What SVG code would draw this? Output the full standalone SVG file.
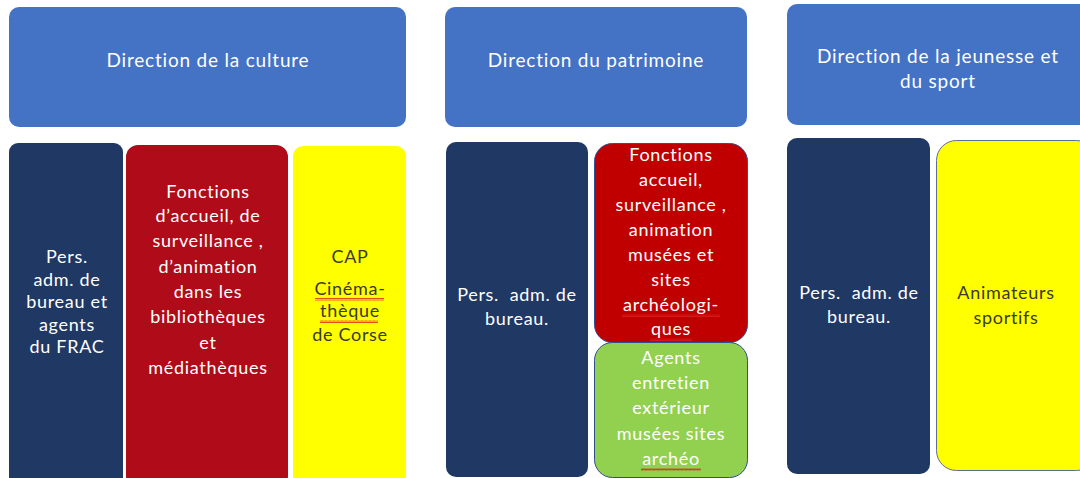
<svg xmlns="http://www.w3.org/2000/svg" width="1080" height="478" viewBox="0 0 1080 478">
<defs>
<pattern id="wavy" width="4" height="3" patternUnits="userSpaceOnUse">
<path d="M0 2.5 L1 0.5 L2 2.5 L3 0.5 L4 2.5" fill="none" stroke="#e02020" stroke-width="0.8"/>
</pattern>
<style>
.hdr{fill:#4472C4;}
.navy{fill:#203864;}
.red1{fill:#B00B18;}
.red2{fill:#C00000;stroke:#2F4F8F;stroke-width:1;}
.green{fill:#92D050;stroke:#2F4F8F;stroke-width:1;}
.yel{fill:#FFFF00;}
.yel2{fill:#FFFF00;stroke:#5A6E99;stroke-width:1;}
text{font-family:Lato,"Open Sans","Liberation Sans",sans-serif;text-anchor:middle;}
.th{fill:#FFFFFF;font-size:19px;letter-spacing:0.8px;}
.tw{fill:#FFFFFF;font-size:18px;letter-spacing:0.7px;}
.tk{fill:#3A3A2A;font-size:18px;letter-spacing:0.7px;}
.wv{fill:url(#wavy);}
</style>
</defs>
<rect width="1080" height="478" fill="#FFFFFF"/>
<g id="connectors"></g>

<g id="hdr-culture">
<rect class="hdr" x="9" y="7" width="397" height="120" rx="10"/>
<text class="th" x="208" y="67">Direction de la culture</text>
</g>
<g id="hdr-patrimoine">
<rect class="hdr" x="445" y="7" width="302" height="120" rx="10"/>
<text class="th" x="596" y="67">Direction du patrimoine</text>
</g>
<g id="hdr-jeunesse">
<rect class="hdr" x="787" y="4" width="310" height="121" rx="10"/>
<text class="th" x="938" y="63">Direction de la jeunesse et</text>
<text class="th" x="938" y="88">du sport</text>
</g>

<g id="c1-admin">
<rect class="navy" x="9" y="143" width="114" height="345" rx="9"/>
<text class="tw" x="67" y="263">Pers.</text>
<text class="tw" x="67" y="286">adm. de</text>
<text class="tw" x="67" y="308">bureau et</text>
<text class="tw" x="67" y="331">agents</text>
<text class="tw" x="67" y="353">du FRAC</text>
</g>
<g id="c1-accueil">
<rect class="red1" x="126" y="145" width="162" height="343" rx="12"/>
<text class="tw" x="208" y="198">Fonctions</text>
<text class="tw" x="208" y="222">d’accueil, de</text>
<text class="tw" x="208" y="247">surveillance ,</text>
<text class="tw" x="208" y="273">d’animation</text>
<text class="tw" x="208" y="298">dans les</text>
<text class="tw" x="208" y="323">bibliothèques</text>
<text class="tw" x="208" y="349">et</text>
<text class="tw" x="208" y="374">médiathèques</text>
</g>
<g id="c1-cap">
<rect class="yel" x="293" y="146" width="113" height="342" rx="10"/>
<text class="tk" x="350" y="263">CAP</text>
<text class="tk" x="350" y="295">Cinéma-</text>
<rect class="wv" x="315" y="298" width="69" height="3"/>
<text class="tk" x="350" y="317">thèque</text>
<rect class="wv" x="320" y="320" width="58" height="3"/>
<text class="tk" x="350" y="341">de Corse</text>
</g>

<g id="c2-admin">
<rect class="navy" x="446" y="142" width="142" height="335" rx="10"/>
<text class="tw" x="517" y="301" xml:space="preserve">Pers.  adm. de</text>
<text class="tw" x="517" y="325">bureau.</text>
</g>
<g id="c2-accueil">
<rect class="red2" x="594.5" y="143.5" width="153" height="199" rx="18"/>
<text class="tw" x="671" y="161">Fonctions</text>
<text class="tw" x="671" y="186">accueil,</text>
<text class="tw" x="671" y="211">surveillance ,</text>
<text class="tw" x="671" y="236">animation</text>
<text class="tw" x="671" y="261">musées et</text>
<text class="tw" x="671" y="286">sites</text>
<text class="tw" x="671" y="311">archéologi-</text>
<rect class="wv" x="622" y="314" width="98" height="3"/>
<text class="tw" x="671" y="335">ques</text>
<rect class="wv" x="650" y="338" width="42" height="3"/>
</g>
<g id="c2-entretien">
<rect class="green" x="594.5" y="342.5" width="153" height="135" rx="18"/>
<text class="tw" x="671" y="364">Agents</text>
<text class="tw" x="671" y="389">entretien</text>
<text class="tw" x="671" y="414">extérieur</text>
<text class="tw" x="671" y="440">musées sites</text>
<text class="tw" x="671" y="465">archéo</text>
<rect class="wv" x="641" y="468" width="60" height="3"/>
</g>

<g id="c3-admin">
<rect class="navy" x="787" y="138" width="143" height="336" rx="10"/>
<text class="tw" x="859" y="299" xml:space="preserve">Pers.  adm. de</text>
<text class="tw" x="859" y="323">bureau.</text>
</g>
<g id="c3-animateurs">
<rect class="yel2" x="936.5" y="140.5" width="160" height="330" rx="20"/>
<text class="tk" x="1006" y="299">Animateurs</text>
<text class="tk" x="1006" y="324">sportifs</text>
</g>
</svg>
